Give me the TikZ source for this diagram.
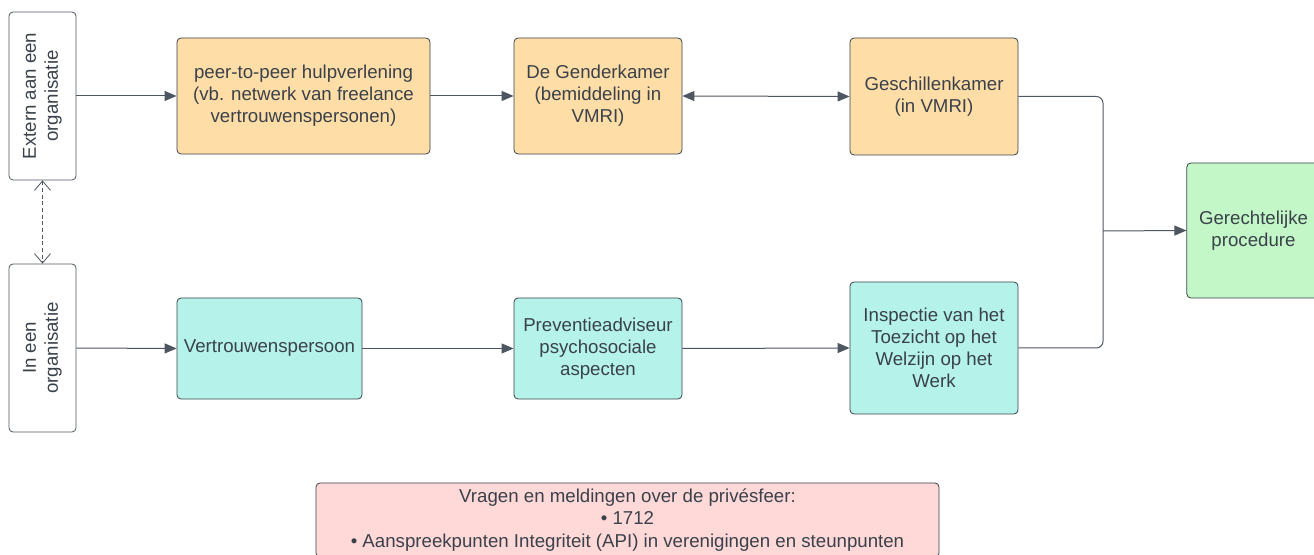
\documentclass[tikz,border=0pt]{standalone}
\usepackage{fontspec}
\setmainfont{Liberation Sans}
\usetikzlibrary{arrows.meta}
\definecolor{ink}{HTML}{3A414A}
\definecolor{edgegray}{HTML}{4E5661}
\definecolor{orangefill}{HTML}{FFDDA6}
\definecolor{cyanfill}{HTML}{B5F3EA}
\definecolor{greenfill}{HTML}{C3F7C8}
\definecolor{pinkfill}{HTML}{FFD8D8}

\begin{document}
\begin{tikzpicture}[x=0.75pt,y=-0.75pt,
        font=\fontsize{14}{16.5}\selectfont,text=ink,
        box/.style={draw=ink,line width=0.6pt,rounded corners=3pt,align=center,inner sep=2pt},
        side/.style={box,draw=edgegray,fill=white,rotate=90,minimum width=126pt,minimum height=50.25pt},
        extbox/.style={box,fill=orangefill},
        inbox/.style={box,fill=cyanfill},
        flow/.style={draw=edgegray,line width=0.75pt,-{Triangle[length=9pt,width=7.5pt]}}]

    \useasboundingbox (0,0) rectangle (1314,555);

    % column of the two origins
    \node[side] (ext) at (42.5,96) {Extern aan een\\organisatie};
    \node[side] (inorg) at (42.5,348) {In een\\organisatie};

    % upper row
    \node[extbox,minimum width=189.75pt,minimum height=87pt] (peer) at (303.5,96)
        {peer-to-peer hulpverlening\\(vb. netwerk van freelance\\vertrouwenspersonen)};
    \node[extbox,minimum width=126pt,minimum height=87pt] (gender) at (598,96)
        {De Genderkamer\\(bemiddeling in\\VMRI)};
    \node[extbox,minimum width=126pt,minimum height=87.75pt] (gesch) at (934,96.5)
        {Geschillenkamer\\(in VMRI)};

    % lower row
    \node[inbox,minimum width=138.75pt,minimum height=75.75pt] (vertr) at (269.5,348.5)
        {Vertrouwenspersoon};
    \node[inbox,minimum width=126pt,minimum height=75.75pt] (prev) at (598,348.5)
        {Preventieadviseur\\psychosociale\\aspecten};
    \node[inbox,minimum width=126pt,minimum height=99pt] (insp) at (934,348)
        {Inspectie van het\\Toezicht op het\\Welzijn op het\\Werk};

    \node[box,fill=greenfill,minimum width=100pt,minimum height=101.25pt] (court) at (1253.5,230.5)
        {Gerechtelijke\\procedure};

    \node[box,fill=pinkfill,minimum width=467.25pt,minimum height=55.5pt,
          font=\fontsize{14}{17}\selectfont] (priv) at (627.5,520)
        {Vragen en meldingen over de privésfeer:\\\textbullet\ 1712\\\textbullet\ Aanspreekpunten Integriteit (API) in verenigingen en steunpunten};

    \coordinate (join) at (1103,231);

    \draw[flow] (ext.south) -- (peer.west);
    \draw[flow] (peer.east) -- (gender.west);
    \draw[flow,{Triangle[length=9pt,width=7.5pt]}-{Triangle[length=9pt,width=7.5pt]}] (gender.east) -- (gesch.west);
    \draw[flow] (inorg.south) -- (vertr.west);
    \draw[flow] (vertr.east) -- (prev.west);
    \draw[flow] (prev.east) -- (insp.west);
    \draw[flow,-,rounded corners=5pt] (gesch.east) -| (join);
    \draw[flow,-,rounded corners=5pt] (insp.east) -| (join);
    \draw[flow] (join) -- (court.west);

    \draw[edgegray,line width=0.6pt,dash pattern=on 3pt off 2pt,
          {Straight Barb[length=7pt,width=12pt]}-{Straight Barb[length=7pt,width=12pt]}]
        (ext.west) -- (inorg.east);
\end{tikzpicture}
\end{document}
